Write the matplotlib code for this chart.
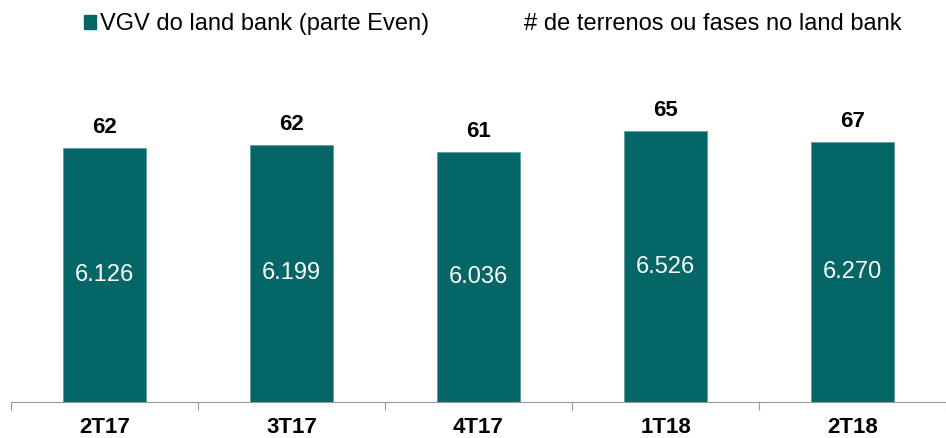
import matplotlib.pyplot as plt
from matplotlib.patches import Patch
from matplotlib.lines import Line2D

# ------------------- Data -------------------
periods = ["2T17", "3T17", "4T17", "1T18", "2T18"]
vgv = [6126, 6199, 6036, 6526, 6270]          # VGV do land bank (R$ milhões)
n_terrenos = [62, 62, 61, 65, 67]             # terrenos ou fases
vgv_labels = ["6.126", "6.199", "6.036", "6.526", "6.270"]

teal = "#046666"
plt.rcParams['font.family'] = ['Liberation Sans', 'DejaVu Sans']

fig = plt.figure(figsize=(9.46, 4.38), dpi=100)
ax = fig.add_axes([11 / 946, 1 - 402 / 438, 935 / 946, 332 / 438])

x = range(len(periods))
bars = ax.bar(x, vgv, width=0.44, color=teal, edgecolor="#5f9f9f", linewidth=0.6)

# value labels inside the bars
for b, lab in zip(bars, vgv_labels):
    ax.text(b.get_x() + b.get_width() / 2, b.get_height() / 2, lab,
            ha="center", va="center", color="white", fontsize=17)

# number of land plots above bars
for b, n in zip(bars, n_terrenos):
    ax.annotate(str(n), (b.get_x() + b.get_width() / 2, b.get_height()),
                xytext=(0, 7), textcoords="offset points",
                ha="center", va="bottom", fontsize=16, fontweight="bold")

ax.set_xlim(-0.5, len(periods) - 0.5)
ax.set_ylim(0, 8000)
ax.set_yticks([])
ax.set_xticks([i + 0.5 for i in range(-1, len(periods))], minor=False)
ax.set_xticklabels([])
ax.set_xticks(list(x), minor=True)
ax.set_xticklabels(periods, minor=True, fontsize=16, fontweight="bold")
ax.tick_params(axis="x", which="major", length=6, color="#999999")
ax.tick_params(axis="x", which="minor", length=0, pad=11)
for s in ["left", "right", "top"]:
    ax.spines[s].set_visible(False)
ax.spines["bottom"].set_color("#999999")

handles = [Patch(color=teal), Line2D([], [], color="none")]
fig.legend(handles, ["VGV do land bank (parte Even)", "# de terrenos ou fases no land bank"],
           loc="upper left", bbox_to_anchor=(63 / 946, 1.0 + 8 / 438), ncol=2, frameon=False,
           fontsize=17, handlelength=0.5, handleheight=0.5, handletextpad=0.15,
           columnspacing=3.4)

plt.savefig("out.png", dpi=100)
